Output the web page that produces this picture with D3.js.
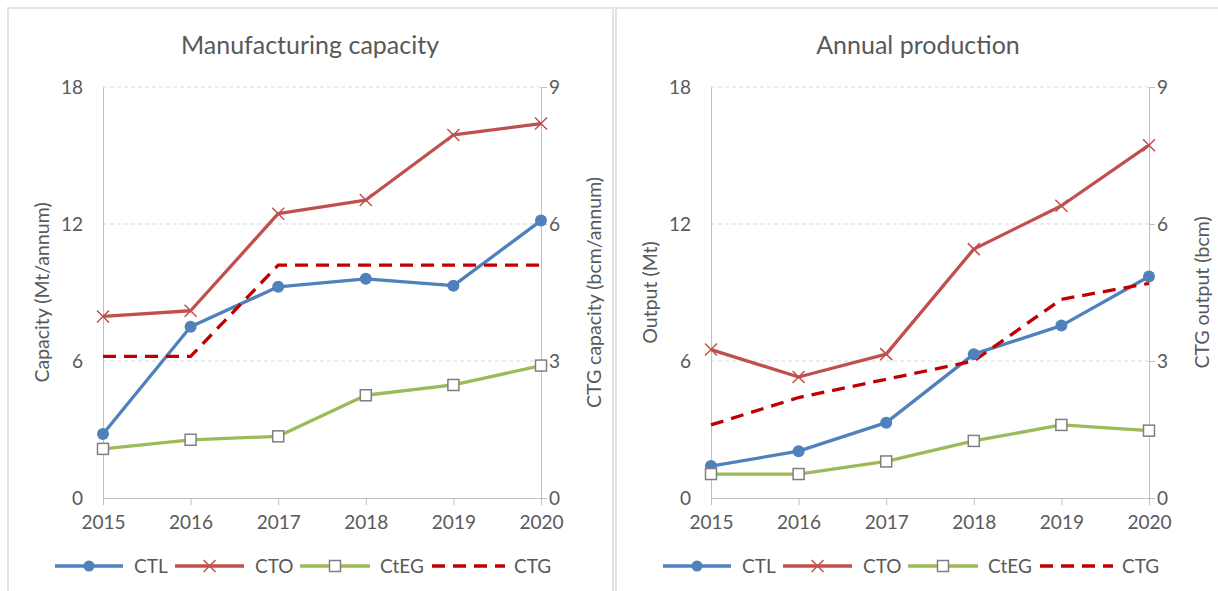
<!DOCTYPE html>
<html>
<head>
<meta charset="utf-8">
<script src="https://cdn.jsdelivr.net/npm/d3@7"></script>
<style>
  html, body { margin: 0; padding: 0; background: #fff; }
  svg { display: block; font-family: Lato, "Open Sans", sans-serif; }
</style>
</head>
<body>
<svg id="chart" width="1218" height="591"></svg>
<script>
// ---- data ----
const years = [2015, 2016, 2017, 2018, 2019, 2020];
const seriesNames = ["CTL", "CTO", "CtEG", "CTG"];

const capCTL  = [2.8, 7.5, 9.25, 9.6, 9.3, 12.15];
const capCTO  = [7.95, 8.2, 12.45, 13.05, 15.9, 16.4];
const capCtEG = [2.15, 2.55, 2.7, 4.5, 4.95, 5.8];
const capCTG  = [3.1, 3.1, 5.1, 5.1, 5.1, 5.1];      // secondary axis (bcm/annum)

const prodCTL  = [1.4, 2.05, 3.3, 6.3, 7.55, 9.7];
const prodCTO  = [6.5, 5.3, 6.3, 10.9, 12.8, 15.45];
const prodCtEG = [1.05, 1.05, 1.6, 2.5, 3.2, 2.95];
const prodCTG  = [1.6, 2.2, 2.6, 3.0, 4.35, 4.7];    // secondary axis (bcm)

const leftTicks = [0, 6, 12, 18];
const rightTicks = [0, 3, 6, 9];

const panels = [
  { title: "Manufacturing capacity", yTitle: "Capacity (Mt/annum)", y2Title: "CTG capacity (bcm/annum)",
    ctl: capCTL, cto: capCTO, cteg: capCtEG, ctg: capCTG },
  { title: "Annual production", yTitle: "Output (Mt)", y2Title: "CTG output (bcm)",
    ctl: prodCTL, cto: prodCTO, cteg: prodCtEG, ctg: prodCTG }
];

// ---- styles ----
const C = { ctl: "#4f81bd", cto: "#c0504d", cteg: "#9bbb59", ctg: "#c00000", text: "#595959",
            grid: "#d9d9d9", axis: "#bfbfbf", frame: "#e3e3e3", marker: "#7f7f7f" };
const FS_TICK = 19, FS_AXT = 19.5, FS_LEG = 19, FS_TITLE = 25;
const LW = 3.3;

const svg = d3.select("#chart");
const PANEL_W = 608;

panels.forEach((p, i) => {
  const ox = i * PANEL_W;
  const g = svg.append("g").attr("transform", `translate(${ox},0)`);

  // panel frame
  g.append("rect").attr("x", 8).attr("y", 8).attr("width", 605).attr("height", 600)
    .attr("fill", "none").attr("stroke", C.frame).attr("stroke-width", 2);

  const x = d3.scalePoint().domain(years).range([103, 541]);
  const y = d3.scaleLinear().domain([0, 18]).range([498, 87]);
  const y2 = d3.scaleLinear().domain([0, 9]).range([498, 87]);

  // title
  g.append("text").attr("x", 310).attr("y", 54).attr("text-anchor", "middle")
    .attr("fill", C.text).attr("font-size", FS_TITLE).text(p.title);

  // gridlines
  g.append("g").selectAll("line").data(leftTicks.filter(d => d > 0)).join("line")
    .attr("x1", 103).attr("x2", 541).attr("y1", d => y(d)).attr("y2", d => y(d))
    .attr("stroke", C.grid).attr("stroke-dasharray", "4,3").attr("stroke-width", 1);

  // left axis (no ticks)
  const la = g.append("g").attr("transform", "translate(103,0)")
    .call(d3.axisLeft(y).tickValues(leftTicks).tickSize(0).tickPadding(20));
  la.select(".domain").attr("stroke", C.axis);
  la.selectAll("text").attr("fill", C.text).attr("font-size", FS_TICK).attr("font-family", "Lato");

  // right axis
  const ra = g.append("g").attr("transform", "translate(541,0)")
    .call(d3.axisRight(y2).tickValues(rightTicks).tickSize(6).tickPadding(2));
  ra.select(".domain").attr("stroke", C.axis);
  ra.selectAll("line").attr("stroke", C.axis);
  ra.selectAll("text").attr("fill", C.text).attr("font-size", FS_TICK).attr("font-family", "Lato");

  // bottom axis
  const ba = g.append("g").attr("transform", "translate(0,498)")
    .call(d3.axisBottom(x).tickSize(7).tickPadding(11).tickSizeOuter(0));
  ba.select(".domain").attr("stroke", C.axis);
  ba.selectAll("line").attr("stroke", C.axis);
  ba.selectAll("text").attr("fill", C.text).attr("font-size", FS_TICK).attr("font-family", "Lato");

  // axis titles
  g.append("text").attr("transform", `translate(42,292.5) rotate(-90)`).attr("text-anchor", "middle")
    .attr("dy", "0.35em").attr("fill", C.text).attr("font-size", FS_AXT).text(p.yTitle);
  g.append("text").attr("transform", `translate(594,292.5) rotate(-90)`).attr("text-anchor", "middle")
    .attr("dy", "0.35em").attr("fill", C.text).attr("font-size", FS_AXT).text(p.y2Title);

  // lines
  const line = (sc) => d3.line().x((d, j) => x(years[j])).y(d => sc(d));
  g.append("path").datum(p.cteg).attr("d", line(y)).attr("fill", "none")
    .attr("stroke", C.cteg).attr("stroke-width", LW).attr("stroke-linejoin", "round");
  g.append("path").datum(p.ctl).attr("d", line(y)).attr("fill", "none")
    .attr("stroke", C.ctl).attr("stroke-width", LW).attr("stroke-linejoin", "round");
  g.append("path").datum(p.cto).attr("d", line(y)).attr("fill", "none")
    .attr("stroke", C.cto).attr("stroke-width", LW).attr("stroke-linejoin", "round");
  g.append("path").datum(p.ctg).attr("d", line(y2)).attr("fill", "none")
    .attr("stroke", C.ctg).attr("stroke-width", LW).attr("stroke-dasharray", "13,8");

  // markers
  g.append("g").selectAll("circle").data(p.ctl).join("circle")
    .attr("cx", (d, j) => x(years[j])).attr("cy", d => y(d)).attr("r", 6).attr("fill", C.ctl);
  const xm = 6;
  g.append("g").selectAll("path").data(p.cto).join("path")
    .attr("d", (d, j) => { const cx = x(years[j]), cy = y(d);
      return `M${cx-xm},${cy-xm}L${cx+xm},${cy+xm}M${cx-xm},${cy+xm}L${cx+xm},${cy-xm}`; })
    .attr("stroke", C.cto).attr("stroke-width", 1.5);
  g.append("g").selectAll("rect").data(p.cteg).join("rect")
    .attr("x", (d, j) => x(years[j]) - 5.5).attr("y", d => y(d) - 5.5)
    .attr("width", 11).attr("height", 11).attr("fill", "#fff")
    .attr("stroke", C.marker).attr("stroke-width", 1.5);

  // legend
  const ly = 566;
  const items = [
    { name: seriesNames[0], x0: 55, x1: 123, tx: 134, key: "ctl" },
    { name: seriesNames[1], x0: 175, x1: 244, tx: 255, key: "cto" },
    { name: seriesNames[2], x0: 300, x1: 370, tx: 380, key: "cteg" },
    { name: seriesNames[3], x0: 432, x1: 505, tx: 514, key: "ctg" }
  ];
  const lg = g.append("g");
  items.forEach(it => {
    const l = lg.append("line").attr("x1", it.x0).attr("x2", it.x1).attr("y1", ly).attr("y2", ly)
      .attr("stroke", C[it.key]).attr("stroke-width", LW);
    const mx = (it.x0 + it.x1) / 2;
    if (it.key === "ctg") l.attr("stroke-dasharray", "13,8");
    if (it.key === "ctl") lg.append("circle").attr("cx", mx).attr("cy", ly).attr("r", 5.5).attr("fill", C.ctl);
    if (it.key === "cto") lg.append("path")
      .attr("d", `M${mx-xm},${ly-xm}L${mx+xm},${ly+xm}M${mx-xm},${ly+xm}L${mx+xm},${ly-xm}`)
      .attr("stroke", C.cto).attr("stroke-width", 1.5);
    if (it.key === "cteg") lg.append("rect").attr("x", mx - 5.5).attr("y", ly - 5.5)
      .attr("width", 11).attr("height", 11).attr("fill", "#fff").attr("stroke", C.marker).attr("stroke-width", 1.5);
    lg.append("text").attr("x", it.tx).attr("y", ly).attr("dy", "0.35em")
      .attr("fill", C.text).attr("font-size", FS_LEG).text(it.name);
  });
});
</script>
</body>
</html>
